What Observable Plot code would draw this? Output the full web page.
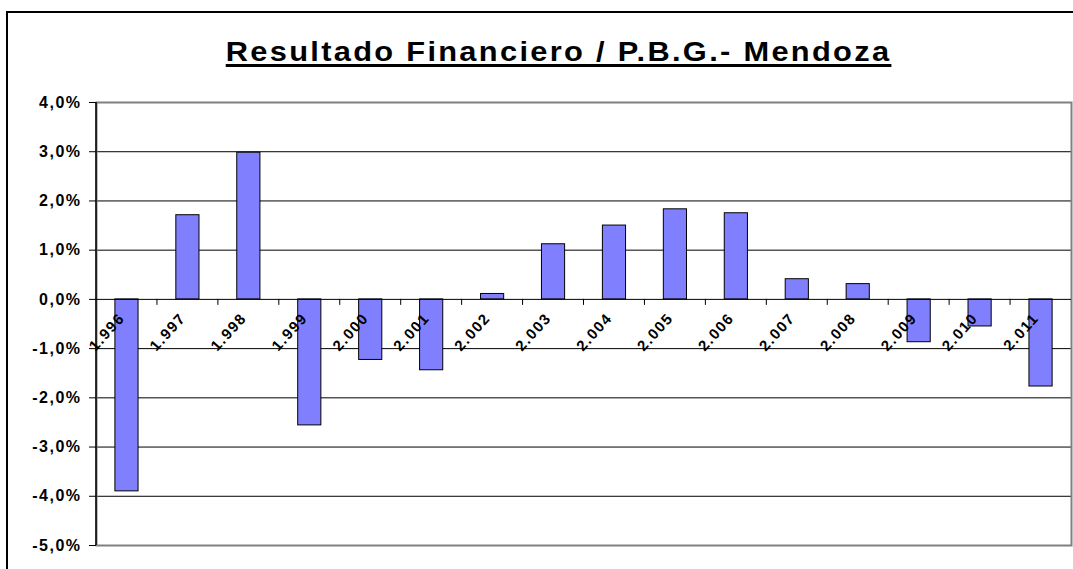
<!DOCTYPE html>
<html>
<head>
<meta charset="utf-8">
<script src="https://cdn.jsdelivr.net/npm/d3@7"></script>
<script src="https://cdn.jsdelivr.net/npm/@observablehq/plot@0.6"></script>
<style>
  html, body { margin: 0; padding: 0; background: #fff; }
  #wrap { position: relative; width: 1073px; height: 569px; overflow: hidden; }
  #outer { position: absolute; left: 6px; top: 11px; width: 1100px; height: 600px; border: 2px solid #000; box-sizing: border-box; }
  #title { position: absolute; left: 0; width: 1117px; top: 36px; text-align: center; font-family: "Liberation Sans", Arial, sans-serif; font-weight: bold; font-size: 28px; line-height: 32px; letter-spacing: 2.1px; text-decoration: underline; text-decoration-thickness: 3px; text-underline-offset: 3px; color: #000; white-space: nowrap; transform: scaleX(1.1); transform-origin: 558px 0; }
  #chart { position: absolute; left: 0; top: 0; }
</style>
</head>
<body>
<div id="wrap">
  <div id="outer"></div>
  <div id="title">Resultado Financiero / P.B.G.- Mendoza</div>
  <div id="chart"></div>
</div>
<script>
const years = ["1.996","1.997","1.998","1.999","2.000","2.001","2.002","2.003","2.004","2.005","2.006","2.007","2.008","2.009","2.010","2.011"];
const values = [-3.90, 1.71, 2.98, -2.56, -1.23, -1.44, 0.11, 1.12, 1.50, 1.83, 1.75, 0.41, 0.31, -0.87, -0.55, -1.77];
const yTicks = [-5, -4, -3, -2, -1, 0, 1, 2, 3, 4];
const gridTicks = [-4, -3, -2, -1, 1, 2, 3];

const data = years.map((year, i) => ({year, value: values[i]}));
const fmt = v => v.toFixed(1).replace(".", ",") + "%";

const leftAxisLine = (index, scales, values, dim) => {
  const g = d3.create("svg:g");
  g.append("line")
    .attr("x1", dim.marginLeft).attr("x2", dim.marginLeft)
    .attr("y1", dim.marginTop).attr("y2", dim.height - dim.marginBottom)
    .attr("stroke", "#000").attr("stroke-width", 1.5);
  return g.node();
};

const xTickMarks = (index, scales, values, dim) => {
  const g = d3.create("svg:g");
  const y0 = scales.y(0);
  const n = years.length;
  const step = (dim.width - dim.marginLeft - dim.marginRight) / n;
  for (let i = 1; i < n; i++) {
    const x = dim.marginLeft + i * step;
    g.append("line").attr("x1", x).attr("x2", x).attr("y1", y0).attr("y2", y0 + 6)
      .attr("stroke", "#000").attr("stroke-width", 1);
  }
  return g.node();
};

const chart = Plot.plot({
  width: 1073,
  height: 569,
  marginLeft: 96,
  marginRight: 2,
  marginTop: 102,
  marginBottom: 24,
  style: {fontFamily: "'Liberation Sans', Arial, sans-serif", fontWeight: "bold", fontSize: "16px", letterSpacing: "1.5px", color: "#000", background: "transparent"},
  x: {domain: years, paddingInner: 0.62, paddingOuter: 0.31, round: false, axis: null},
  y: {domain: [-5, 4], axis: null},
  marks: [
    Plot.ruleY(gridTicks, {stroke: "#000", strokeWidth: 1}),
    Plot.frame({stroke: "#808080", strokeWidth: 2}),
    Plot.barY(data, {x: "year", y: "value", fill: "#8080ff", stroke: "#000", strokeWidth: 1}),
    Plot.ruleY([0], {stroke: "#000", strokeWidth: 1}),
    xTickMarks,
    leftAxisLine,
    Plot.axisY({ticks: yTicks, tickFormat: fmt, tickSize: 7, tickPadding: 8, fontSize: 16, stroke: "#000", label: null}),
    Plot.text(data, {x: "year", y: d => 0, text: "year", rotate: -48, textAnchor: "end", dx: -5, dy: 16, fontSize: 15, fontWeight: "bold", fill: "#000"})
  ]
});
document.getElementById("chart").appendChild(chart);
</script>
</body>
</html>
